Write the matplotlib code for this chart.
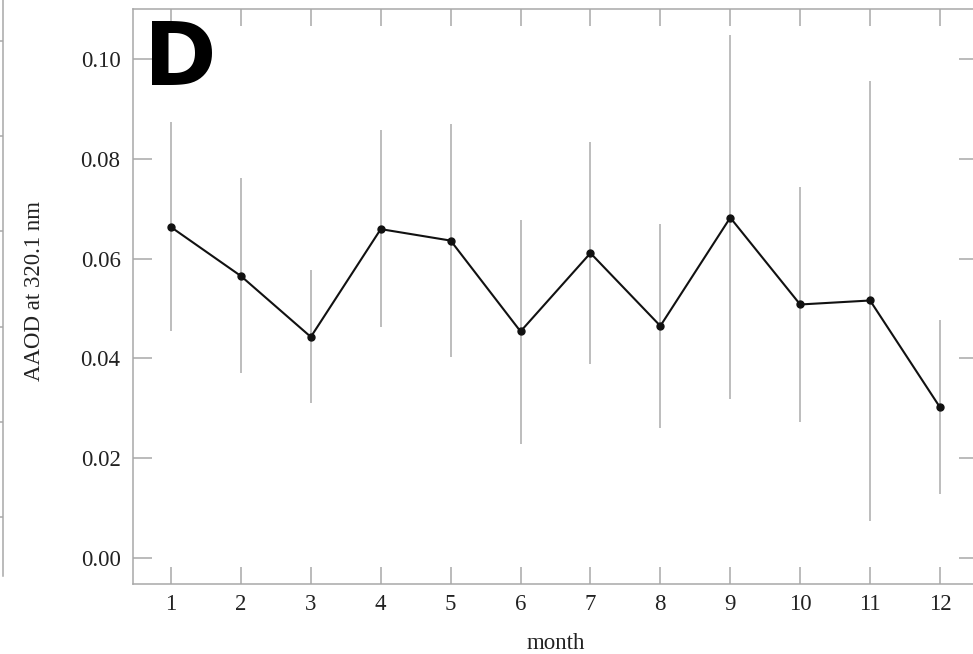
import numpy as np
import matplotlib
matplotlib.use("Agg")
import matplotlib.pyplot as plt

# monthly AAOD at 320.1 nm, mean with upper / lower bar ends
months = np.arange(1, 13)
aaod = [0.0663, 0.0565, 0.0443, 0.0659, 0.0636, 0.0454,
        0.0611, 0.0465, 0.0682, 0.0508, 0.0516, 0.0302]
upper = [0.0873, 0.0761, 0.0577, 0.0858, 0.0870, 0.0677,
         0.0833, 0.0669, 0.1047, 0.0744, 0.0956, 0.0476]
lower = [0.0454, 0.0370, 0.0310, 0.0462, 0.0402, 0.0228,
         0.0389, 0.0260, 0.0318, 0.0273, 0.0075, 0.0129]
y_ticks = [0.00, 0.02, 0.04, 0.06, 0.08, 0.10]

plt.rcParams['font.family'] = ['Liberation Serif', 'DejaVu Serif']
grey = "#a8a8a8"

fig = plt.figure(figsize=(9.73, 6.54), dpi=100)

# edge of the neighbouring panel, just visible at the left
side = fig.add_axes([-0.5, 78 / 654, 0.5 + 3 / 973, 576 / 654])
side.set_ylim(-0.62, 5.43)
side.set_yticks(range(6))
side.set_xticks([])
for s in ["left", "top", "bottom"]:
    side.spines[s].set_visible(False)
side.spines["right"].set_color(grey)
side.spines["right"].set_linewidth(1.1)
side.yaxis.tick_right()
side.tick_params(axis="y", direction="in", length=10, color=grey,
                 width=1.1, labelright=False)
side.patch.set_visible(False)

ax = fig.add_axes([133 / 973, 70 / 654, 845 / 973, 575 / 654])

ax.vlines(months, lower, upper, color="#bdbdbd", linewidth=1.4, zorder=1)
ax.plot(months, aaod, color="#111111", linewidth=1.5, marker="o",
        markersize=5, zorder=3)

ax.set_xlim(0.456, 12.544)
ax.set_ylim(-0.0052, 0.110)
ax.set_xticks(months)
ax.set_yticks(y_ticks)
ax.set_yticklabels([f"{v:.2f}" for v in y_ticks])

for s in ax.spines.values():
    s.set_color(grey)
    s.set_linewidth(1.1)

ax.tick_params(axis="y", direction="in", length=13.5, width=1.1, color=grey,
               labelsize=16.5, pad=9, right=True, labelcolor="#222222")
ax.tick_params(axis="x", direction="in", length=12.5, width=1.1, color=grey,
               labelsize=16.5, pad=7, top=True, labelcolor="#222222")

ax.set_xlabel("month", fontsize=16.5, labelpad=13, color="#222222")
ax.set_ylabel("AAOD at 320.1 nm", fontsize=16.5, color="#222222")
ax.yaxis.set_label_coords(-0.104, 0.51)

fig.text(144 / 973, (654 - 85) / 654, "D", fontsize=63, fontweight="bold",
         family="DejaVu Sans", va="baseline", ha="left")

fig.savefig("out.png", dpi=100)
